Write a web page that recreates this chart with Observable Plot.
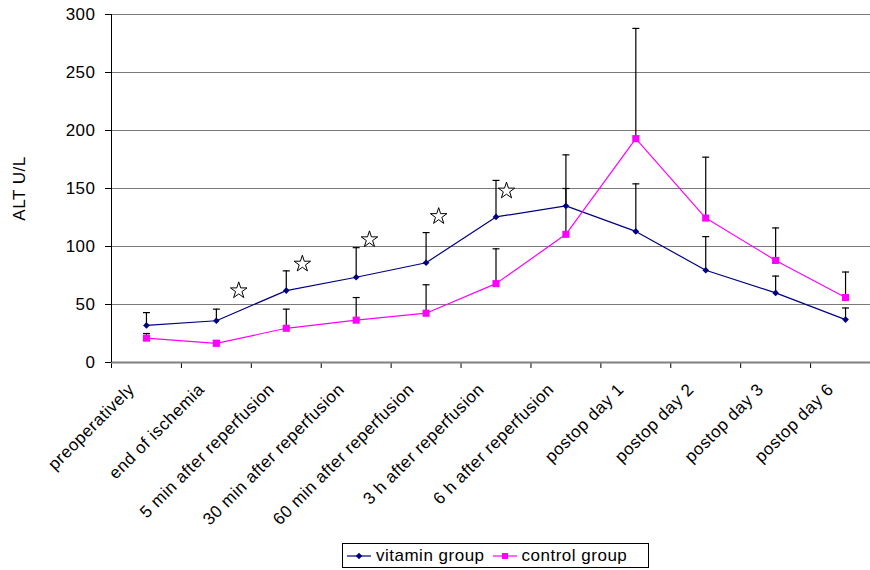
<!DOCTYPE html>
<html>
<head>
<meta charset="utf-8">
<script src="https://cdn.jsdelivr.net/npm/d3@7"></script>
<script src="https://cdn.jsdelivr.net/npm/@observablehq/plot@0.6"></script>
<style>
  body { margin: 0; background: #fff; font-family: "Liberation Sans", Arial, sans-serif; }
  #legend {
    margin-left: 342px; margin-top: 3px; width: 305px; height: 23px;
    border: 1px solid #000; display: flex; align-items: center;
    font-size: 17px; letter-spacing: 0.5px; color: #000; box-sizing: content-box;
  }
  #legend .item { display: flex; align-items: center; margin-left: 4px; margin-right: 4px; }
  #legend svg { margin-right: 5px; }
</style>
</head>
<body>
<div id="chart"></div>
<div id="legend"></div>
<script>
const categories = [
  "preoperatively", "end of ischemia", "5 min after reperfusion",
  "30 min after reperfusion", "60 min after reperfusion", "3 h after reperfusion",
  "6 h after reperfusion", "postop day 1", "postop day 2", "postop day 3", "postop day 6"
];
const vitaminMean  = [32, 36, 62, 73.5, 86, 125.5, 135, 113, 79.5, 60, 37];
const vitaminUpper = [43, 46, 79, 99, 112, 157, 179, 154, 108.5, 74.5, 47];
const controlMean  = [21, 16.5, 29.5, 36.5, 42.5, 68, 110.5, 193, 124.5, 88, 56];
const controlUpper = [25, 19, 46, 56, 67, 98, 150, 288, 177, 116, 78];
// significance stars (position along the category axis, value)
const starPos   = [1.32, 2.23, 3.19, 4.18, 5.15];
const starValue = [62, 85, 106, 126, 148];
const yTicks = [0, 50, 100, 150, 200, 250, 300];
const seriesNames = ["vitamin group", "control group"];
const colors = ["#000080", "#FF00FF"];

const vitamin = categories.map((c, i) => ({i, mean: vitaminMean[i], upper: vitaminUpper[i]}));
const control = categories.map((c, i) => ({i, mean: controlMean[i], upper: controlUpper[i]}));
const stars = starPos.map((p, k) => ({p, v: starValue[k]}));
const boundaries = categories.map((c, i) => i - 0.5);

const capSymbol = {
  draw(ctx) { ctx.moveTo(-3.5, 0); ctx.lineTo(3.5, 0); }
};

const font = "'Liberation Sans', Arial, sans-serif";

const chart = Plot.plot({
  width: 870,
  height: 540,
  marginLeft: 111,
  marginTop: 14,
  marginBottom: 178,
  marginRight: 0,
  style: {fontFamily: font, fontSize: "17px", color: "#000", background: "#fff", overflow: "visible"},
  x: {type: "linear", domain: [-0.5, 10.5], range: [111, 880], ticks: boundaries, tickFormat: () => "", tickSize: 6, label: null},
  y: {domain: [0, 300], ticks: yTicks, tickSize: 6, tickPadding: 10, label: null},
  marks: [
    Plot.ruleY(yTicks.filter(t => t > 0), {stroke: "#7a7a7a", strokeWidth: 1}),
    Plot.ruleY([0], {stroke: "#808080", strokeWidth: 2}),
    Plot.ruleX([-0.5], {stroke: "#000", strokeWidth: 1}),
    // error bars
    Plot.ruleX(vitamin, {x: "i", y1: "mean", y2: "upper", stroke: "#000", strokeWidth: 1.2}),
    Plot.dot(vitamin, {x: "i", y: "upper", symbol: capSymbol, stroke: "#000", strokeWidth: 1.2}),
    Plot.ruleX(control, {x: "i", y1: "mean", y2: "upper", stroke: "#000", strokeWidth: 1.2}),
    Plot.dot(control, {x: "i", y: "upper", symbol: capSymbol, stroke: "#000", strokeWidth: 1.2}),
    // lines
    Plot.line(vitamin, {x: "i", y: "mean", stroke: colors[0], strokeWidth: 1.2}),
    Plot.line(control, {x: "i", y: "mean", stroke: colors[1], strokeWidth: 1.2}),
    Plot.dot(vitamin, {x: "i", y: "mean", symbol: "diamond2", r: 3, fill: colors[0], stroke: "none"}),
    Plot.dot(control, {x: "i", y: "mean", symbol: "square", r: 4, fill: colors[1], stroke: "none"}),
    // stars
    Plot.dot(stars, {x: "p", y: "v", symbol: "star", r: 5.2, fill: "#fff", stroke: "#000", strokeWidth: 1}),
    // category labels
    Plot.text(categories, {x: (d, i) => i, frameAnchor: "bottom", text: d => d, rotate: -45,
      textAnchor: "end", dx: -11, dy: 28, fontSize: 17, fill: "#000"}),
    // y title
    Plot.text(["ALT U/L"], {frameAnchor: "left", text: d => d, rotate: -90, textAnchor: "middle",
      lineAnchor: "middle", dx: -92, fontSize: 17, fill: "#000"})
  ]
});
chart.style.letterSpacing = "0.5px";
document.getElementById("chart").appendChild(chart);

// legend
const legend = d3.select("#legend");
seriesNames.forEach((name, k) => {
  const item = legend.append("div").attr("class", "item");
  const sw = item.append("svg").attr("width", 24).attr("height", 12);
  sw.append("line").attr("x1", 0).attr("x2", 24).attr("y1", 6).attr("y2", 6)
    .attr("stroke", colors[k]).attr("stroke-width", 1.2);
  if (k === 0) {
    sw.append("path").attr("d", d3.symbol(d3.symbolDiamond2, 28)()).attr("transform", "translate(12,6)").attr("fill", colors[k]);
  } else {
    sw.append("rect").attr("x", 9).attr("y", 3).attr("width", 6).attr("height", 6).attr("fill", colors[k]);
  }
  item.append("span").text(name);
});
</script>
</body>
</html>
